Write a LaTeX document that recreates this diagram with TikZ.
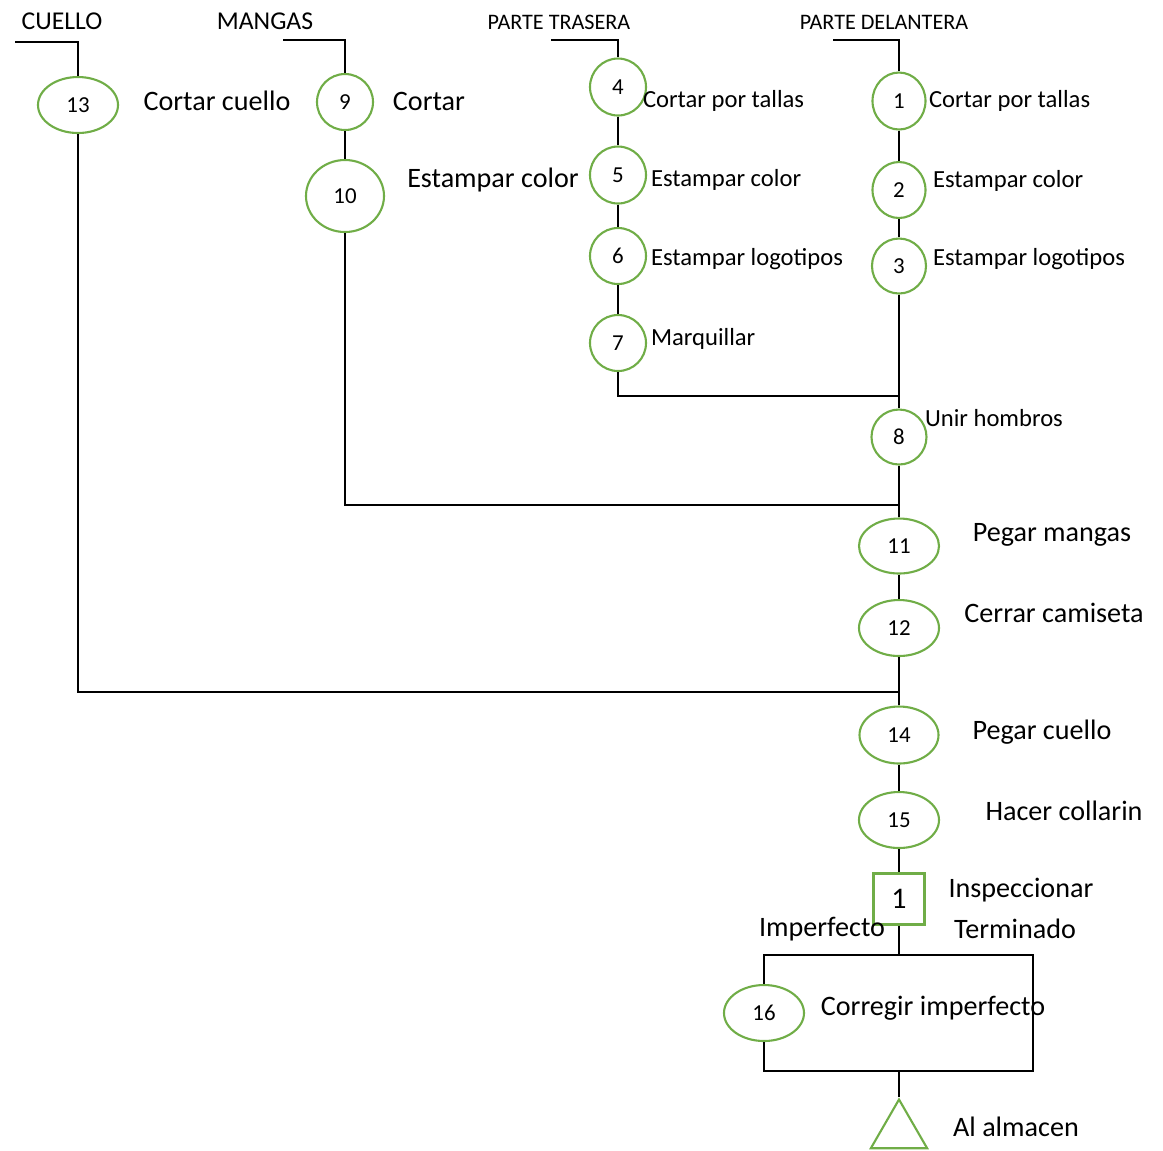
\documentclass[tikz,border=0pt]{standalone}
\usepackage{fontspec}
\setmainfont{Carlito}
\usetikzlibrary{shapes.geometric}
\definecolor{opgreen}{RGB}{112,173,71}

\begin{document}
\begin{tikzpicture}[x=0.01cm, y=-0.01cm, line width=0.6pt,
    op/.style={ellipse, draw=opgreen, inner sep=0pt, font=\fontsize{6.5}{7}\selectfont},
    lbl/.style={font=\fontsize{8}{9}\selectfont, inner sep=0pt},
    lblsm/.style={font=\fontsize{7}{8}\selectfont, inner sep=0pt, anchor=west},
    hdr/.style={font=\fontsize{7.3}{8}\selectfont, inner sep=0pt},
    hdrsm/.style={font=\fontsize{6.3}{7}\selectfont, inner sep=0pt}]
    \useasboundingbox (0,0) rectangle (1163,1150);

    % Operations: number/x/y/width/height
    \foreach \n/\x/\y/\w/\h in {13/78/105/80/56, 9/345/102/56/56, 10/345/196/78/72,
      4/618/87/56/57, 5/618/175/56/57, 6/618/256/56/56, 7/618/343/56/56,
      1/899/101/53/57, 2/899/190/53/56, 3/899/266/54/55, 8/899/437/55/55,
      11/899/546/80/55, 12/899/628/80/56, 14/899/735/79/57, 15/899/820/80/56,
      16/764/1013/80/56}
      \node[op, minimum width=\w*0.01cm, minimum height=\h*0.01cm] (o\n) at (\x,\y) {\n};

    % Inspection and storage
    \node[draw=opgreen, minimum size=0.51cm, inner sep=0pt, font=\fontsize{8.5}{9}\selectfont] (q1) at (899,899) {1};
    \node[draw=opgreen, regular polygon, regular polygon sides=3, minimum size=0.65cm, inner sep=0pt] (alm) at (899,1132) {};

    % Headers
    \node[hdr] (hC) at (62,21) {CUELLO};
    \node[hdr] (hM) at (265,21) {MANGAS};
    \node[hdrsm] (hT) at (559,22) {PARTE TRASERA};
    \node[hdrsm] (hD) at (884,22) {PARTE DELANTERA};
    \coordinate (cA) at (15,42);  \coordinate (cB) at (78,42);
    \coordinate (mA) at (283,40); \coordinate (mB) at (345,40);
    \coordinate (tA) at (551,40); \coordinate (tB) at (618,40);
    \coordinate (dA) at (833,40); \coordinate (dB) at (899,40);
    \draw (cA) -- (cB) -- (o13);
    \draw (mA) -- (mB) -- (o9);
    \draw (tA) -- (tB) -- (o4);
    \draw (dA) -- (dB) -- (o1);

    % Labels
    \node[lbl] (l13) at (217,101) {Cortar cuello};
    \node[lbl] (l9) at (429,101) {Cortar};
    \node[lbl] (l10) at (493,180) {Estampar color};
    \node[lblsm] (l4) at (642,101) {Cortar por tallas};
    \node[lblsm] (l5) at (650,180) {Estampar color};
    \node[lblsm] (l6) at (650,259) {Estampar logotipos};
    \node[lblsm] (l7) at (650,339) {Marquillar};
    \node[lblsm] (l1) at (928,101) {Cortar por tallas};
    \node[lblsm] (l2) at (932,181) {Estampar color};
    \node[lblsm] (l3) at (932,259) {Estampar logotipos};
    \node[lblsm] (l8) at (924,418) {Unir hombros};
    \node[lbl] (l11) at (1052,535) {Pegar mangas};
    \node[lbl] (l12) at (1054,613) {Cerrar camiseta};
    \node[lbl] (l14) at (1042,732) {Pegar cuello};
    \node[lbl] (l15) at (1064,811) {Hacer collarin};
    \node[lbl] (lq) at (1021,890) {Inspeccionar};
    \node[lbl] (lok) at (1015,929) {Terminado};
    \node[lbl] (lbad) at (822,929) {Imperfecto};
    \node[lbl] (l16) at (933,1008) {Corregir imperfecto};
    \node[lbl] (lalm) at (1016,1127) {Al almacen};

    % Flow lines
    \foreach \a/\b in {o9/o10, o4/o5, o5/o6, o6/o7, o1/o2, o2/o3, o3/o8, o8/o11,
      o11/o12, o12/o14, o14/o15, o15/q1}
      \draw (\a) -- (\b);

    % Joins into the main line
    \coordinate (j1) at (899,396);
    \coordinate (j2) at (899,505);
    \coordinate (j3) at (899,692);
    \draw (o7) |- (j1);
    \draw (o10) |- (j2);
    \draw (o13) |- (j3);

    % Rework loop
    \coordinate (rT) at (899,955);
    \coordinate (rTR) at (1033,955);
    \coordinate (rBR) at (1033,1071);
    \coordinate (rB) at (899,1071);
    \draw (q1) -- (rT);
    \draw (o16) |- (rTR) -- (rBR) -| (o16);
    \draw (rB) -- (alm);
\end{tikzpicture}
\end{document}
